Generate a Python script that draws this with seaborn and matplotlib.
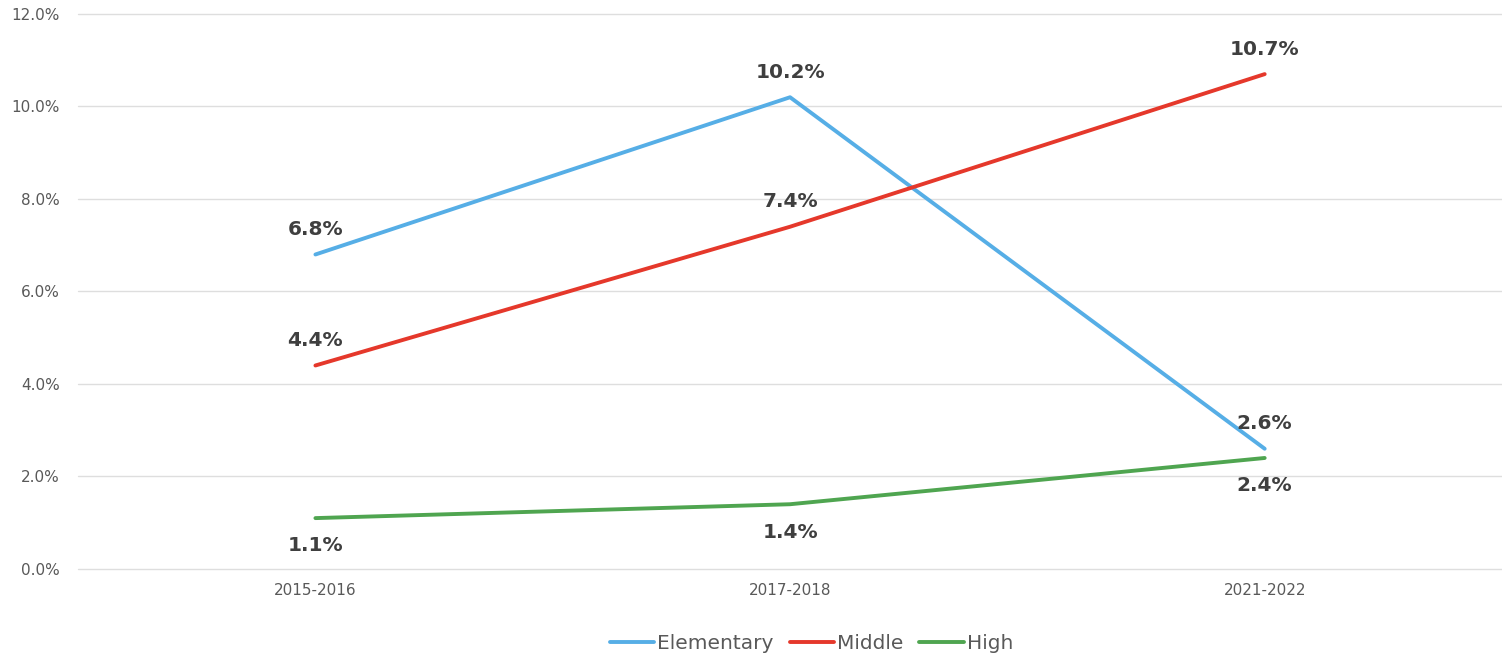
import matplotlib
matplotlib.use("Agg")
import matplotlib.pyplot as plt
import seaborn as sns
import pandas as pd
from matplotlib.ticker import FuncFormatter

years = ["2015-2016", "2017-2018", "2021-2022"]
elementary = [6.8, 10.2, 2.6]
middle = [4.4, 7.4, 10.7]
high = [1.1, 1.4, 2.4]

series_names = ["Elementary", "Middle", "High"]
colors = {"Elementary": "#56AEE6", "Middle": "#E5382B", "High": "#4FA550"}
# label placement per series/point: +1 above, -1 below
label_side = {
    "Elementary": [1, 1, 1],
    "Middle": [1, 1, 1],
    "High": [-1, -1, -1],
}

df = pd.DataFrame({
    "year": years * 3,
    "rate": elementary + middle + high,
    "level": [n for n in series_names for _ in years],
})

sns.set_theme(style="white")
plt.rcParams["font.family"] = ["DejaVu Sans"]

fig = plt.figure(figsize=(15.02, 6.54), dpi=100)
ax = fig.add_axes([0.052, 0.130, 0.948, 0.8486])

sns.lineplot(data=df, x="year", y="rate", hue="level", hue_order=series_names,
             palette=colors, linewidth=2.8, sort=False, ax=ax, legend=True)

ax.set_xlim(-0.5, 2.5)
ax.set_ylim(0, 12)
ax.set_yticks([0, 2, 4, 6, 8, 10, 12])
ax.yaxis.set_major_formatter(FuncFormatter(lambda v, _: f"{v:.1f}%"))
ax.grid(axis="y", color="#DEDEDE", linewidth=1.0)
for gl in ax.get_ygridlines():
    gl.set_clip_on(False)
ax.set_axisbelow(True)
for s in ax.spines.values():
    s.set_visible(False)
ax.tick_params(axis="both", length=0, labelsize=11, labelcolor="#595959")
ax.tick_params(axis="y", pad=13)
ax.tick_params(axis="x", pad=10)
ax.set_xlabel("")
ax.set_ylabel("")

values = {"Elementary": elementary, "Middle": middle, "High": high}
for name in series_names:
    for i, v in enumerate(values[name]):
        side = label_side[name][i]
        offset = 18 if side > 0 else -20
        ax.annotate(f"{v:.1f}%", (i, v), xytext=(0, offset),
                    textcoords="offset points", ha="center", va="center",
                    fontsize=14.5, fontweight="bold", color="#3F3F3F")

handles, labels = ax.get_legend_handles_labels()
ax.legend(handles, labels, loc="center", bbox_to_anchor=(0.515, -0.134),
          ncol=3, frameon=False, fontsize=14.5, handlelength=2.2, handletextpad=0.15,
          columnspacing=0.8, labelcolor="#595959")

fig.savefig("out.png", dpi=100)
